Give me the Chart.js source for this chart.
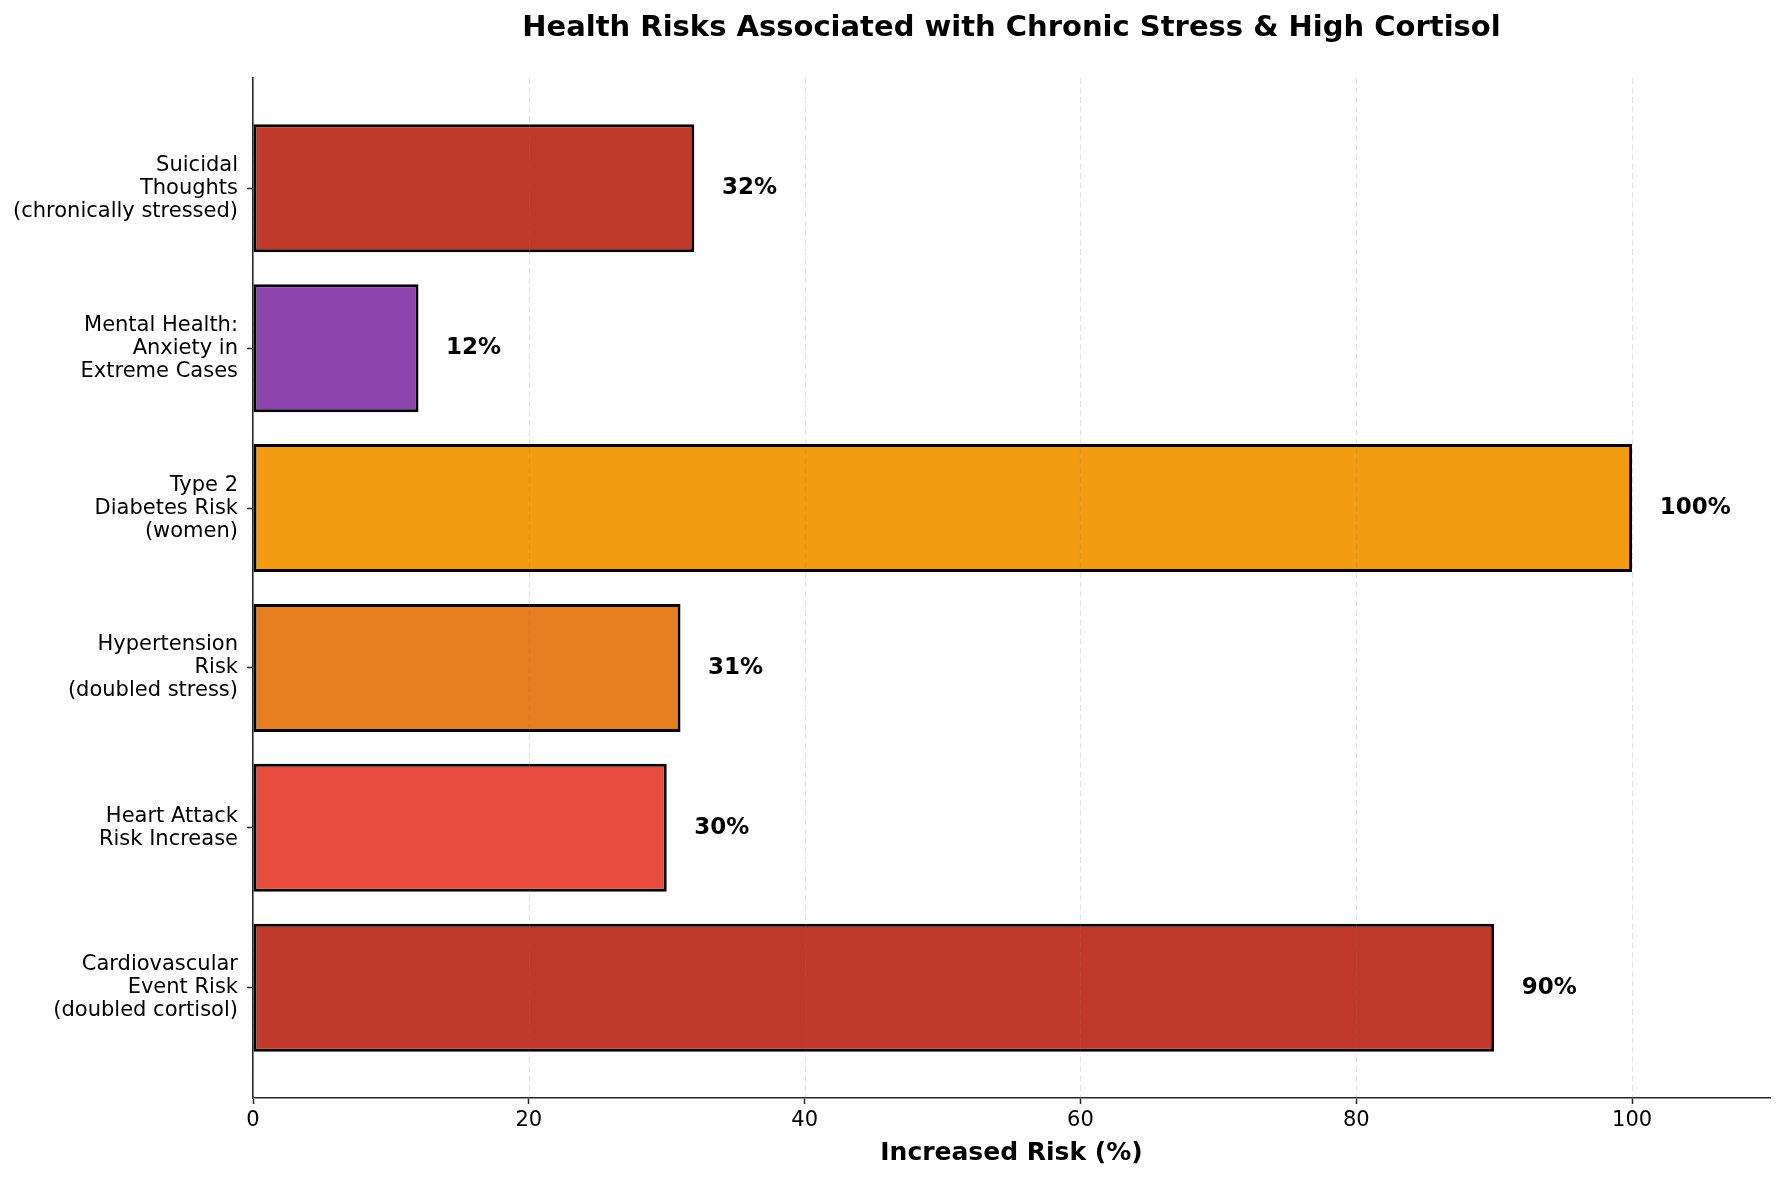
<!DOCTYPE html>
<html>
<head>
<meta charset="utf-8">
<script src="https://cdn.jsdelivr.net/npm/chart.js@4/dist/chart.umd.min.js"></script>
<style>
  html, body { margin: 0; padding: 0; background: #ffffff; }
  #wrap { width: 1785px; height: 1180px; }
</style>
</head>
<body>
<div id="wrap"><canvas id="c" width="1785" height="1180"></canvas></div>
<script>
// ---- Data (bottom to top) ----
const categories = [
  ["Cardiovascular", "Event Risk", "(doubled cortisol)"],
  ["Heart Attack", "Risk Increase"],
  ["Hypertension", "Risk", "(doubled stress)"],
  ["Type 2", "Diabetes Risk", "(women)"],
  ["Mental Health:", "Anxiety in", "Extreme Cases"],
  ["Suicidal", "Thoughts", "(chronically stressed)"]
];
const riskValues = [90, 30, 31, 100, 12, 32];
const barColors = ["#c0392b", "#e74c3c", "#e67e22", "#f39c12", "#8e44ad", "#c0392b"];
const xTickValues = [0, 20, 40, 60, 80, 100];
const chartTitle = "Health Risks Associated with Chronic Stress & High Cortisol";
const xAxisTitle = "Increased Risk (%)";

const FONT = "'DejaVu Sans', 'Liberation Sans', sans-serif";
const AXIS_COLOR = "#262626";

const points = riskValues.map((v, i) => ({ x: v, y: i }));

const overlayPlugin = {
  id: "overlay",
  afterDatasetsDraw(chart) {
    const ctx = chart.ctx;
    const area = chart.chartArea;
    const xs = chart.scales.x;
    // dashed grid lines over bars
    ctx.save();
    ctx.strokeStyle = "rgba(128,128,128,0.22)";
    ctx.lineWidth = 1.2;
    ctx.setLineDash([6, 3.5]);
    xTickValues.forEach(v => {
      const px = Math.round(xs.getPixelForValue(v)) + 0.5;
      ctx.beginPath();
      ctx.moveTo(px, area.top);
      ctx.lineTo(px, area.bottom);
      ctx.stroke();
    });
    ctx.restore();
    // value labels
    const meta = chart.getDatasetMeta(0);
    ctx.save();
    ctx.fillStyle = "#000000";
    ctx.font = "bold 23px " + FONT;
    ctx.textAlign = "left";
    ctx.textBaseline = "middle";
    meta.data.forEach((bar, i) => {
      const v = riskValues[i];
      const px = xs.getPixelForValue(v + 2);
      ctx.fillText(v + "%", px, bar.y);
    });
    ctx.restore();
    // title
    ctx.save();
    ctx.fillStyle = "#000000";
    ctx.font = "bold 29px " + FONT;
    ctx.textAlign = "center";
    ctx.textBaseline = "middle";
    ctx.fillText(chartTitle, (area.left + area.right) / 2, 28);
    ctx.restore();
  }
};

new Chart(document.getElementById("c"), {
  type: "bar",
  data: {
    datasets: [{
      data: points,
      backgroundColor: barColors,
      borderColor: "#000000",
      borderWidth: 3,
      borderSkipped: false,
      barPercentage: 0.8,
      categoryPercentage: 1.0
    }]
  },
  options: {
    indexAxis: "y",
    responsive: false,
    animation: false,
    layout: { padding: { left: 0, top: 78, right: 15, bottom: 0 } },
    plugins: {
      legend: { display: false },
      title: { display: false },
      tooltip: { enabled: false }
    },
    scales: {
      x: {
        type: "linear",
        position: "bottom",
        min: 0,
        max: 110,
        offset: false,
        afterBuildTicks: (scale) => { scale.ticks = xTickValues.map(v => ({ value: v })); },
        afterFit: (scale) => { scale.height = 82; },
        ticks: {
          color: "#000000",
          font: { family: FONT, size: 21 },
          padding: 4,
          maxRotation: 0,
          autoSkip: false
        },
        grid: {
          offset: false,
          drawOnChartArea: false,
          drawTicks: true,
          tickLength: 6,
          tickColor: AXIS_COLOR,
          tickWidth: 1.5
        },
        border: { display: true, color: AXIS_COLOR, width: 1.6 },
        title: {
          display: true,
          text: xAxisTitle,
          color: "#000000",
          font: { family: FONT, size: 25, weight: "bold" },
          padding: { top: 0, bottom: 12 }
        }
      },
      y: {
        type: "linear",
        position: "left",
        min: -0.69,
        max: 5.69,
        offset: false,
        afterBuildTicks: (scale) => { scale.ticks = categories.map((_, i) => ({ value: i })); },
        afterFit: (scale) => { scale.width = 253; },
        ticks: {
          color: "#000000",
          font: { family: FONT, size: 21, lineHeight: 1.095 },
          padding: 9,
          autoSkip: false,
          callback: (value) => categories[value] || ""
        },
        grid: {
          offset: false,
          drawOnChartArea: false,
          drawTicks: true,
          tickLength: 6,
          tickColor: AXIS_COLOR,
          tickWidth: 1.5
        },
        border: { display: true, color: AXIS_COLOR, width: 1.6 }
      }
    }
  },
  plugins: [overlayPlugin]
});
</script>
</body>
</html>
